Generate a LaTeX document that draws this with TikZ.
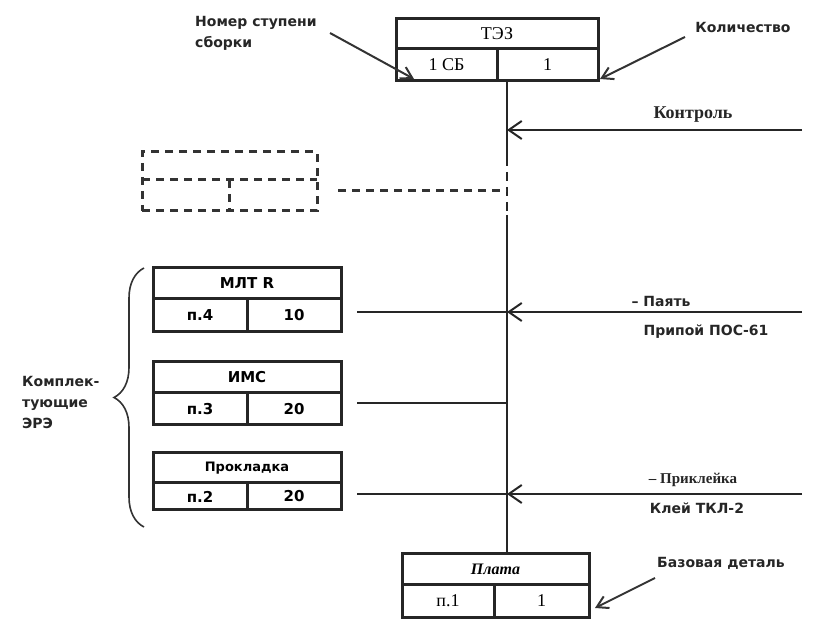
\documentclass[tikz,border=0pt]{standalone}
\usepackage{fontspec}
\setmainfont{Liberation Serif}
\newfontfamily\lblfont{DejaVu Sans}
\usetikzlibrary{arrows.meta, positioning, calc, decorations.pathreplacing}

\begin{document}
\begin{tikzpicture}[
  x=1pt, y=-1pt,
  cell/.style={rectangle, draw=black!85, line width=3pt, minimum height=31pt,
               inner sep=0pt, outer sep=0pt, anchor=north west,
               font=\fontsize{18}{20}\selectfont},
  scell/.style={cell, font=\lblfont\bfseries\fontsize{15}{17}\selectfont},
  ghost/.style={draw=black!80, line width=3pt, dash pattern=on 8pt off 6pt},
  lbl/.style={font=\lblfont\bfseries\fontsize{14}{21}\selectfont, text=black!85,
              inner sep=0pt, align=left},
  slbl/.style={font=\bfseries\fontsize{18}{20}\selectfont, text=black!85, inner sep=0pt},
  trunk/.style={line width=2.8pt, draw=black!85},
  feed/.style={trunk, -{Straight Barb[length=13pt, width=18pt, line width=2pt]}},
  pointer/.style={line width=2pt, draw=black!80, -{Straight Barb[length=11pt, width=13pt]}}
]
\useasboundingbox (0,0) rectangle (815,620);

% ── Assembly unit ──
\node[cell, minimum width=202pt, minimum height=30pt] (tez) at (396,19) {ТЭЗ};
\node[cell, minimum width=101pt, minimum height=32pt] (tez-code) at (tez.south west) {1 СБ};
\node[cell, minimum width=101pt, minimum height=32pt] (tez-qty)  at (tez-code.north east) {1};

% ── Omitted element (dashed) ──
\node[ghost, rectangle, minimum width=175pt, minimum height=59pt, outer sep=0pt,
      anchor=north west] (gh) at (142,152) {};
\draw[ghost] ($(gh.north west)+(0,28)$) -- ($(gh.north east)+(0,28)$);
\draw[ghost] ($(gh.north west)+(87,28)$) -- ($(gh.south west)+(87,0)$);

% ── Components ──
\node[scell, minimum width=188pt] (mlt) at (153,268) {МЛТ R};
\node[scell, minimum width=94pt, minimum height=33pt] (mlt-code) at (mlt.south west) {п.4};
\node[scell, minimum width=94pt, minimum height=33pt] (mlt-qty)  at (mlt-code.north east) {10};

\node[scell, minimum width=188pt] (ims) at (153,362) {ИМС};
\node[scell, minimum width=94pt, minimum height=32pt] (ims-code) at (ims.south west) {п.3};
\node[scell, minimum width=94pt, minimum height=32pt] (ims-qty)  at (ims-code.north east) {20};

\node[scell, minimum width=188pt, minimum height=30pt, font=\lblfont\bfseries\fontsize{13}{15}\selectfont] (gasket) at (153,453) {Прокладка};
\node[scell, minimum width=94pt, minimum height=27pt] (gasket-code) at (gasket.south west) {п.2};
\node[scell, minimum width=94pt, minimum height=27pt] (gasket-qty)  at (gasket-code.north east) {20};

% ── Base part ──
\node[cell, minimum width=187pt, minimum height=30pt, font=\bfseries\itshape\fontsize{16}{18}\selectfont] (plata) at (402,554) {Плата};
\node[cell, minimum width=92pt, minimum height=33pt] (plata-code) at (plata.south west) {п.1};
\node[cell, minimum width=95pt, minimum height=33pt] (plata-qty)  at (plata-code.north east) {1};

% ── Trunk junctions ──
\coordinate (j-ctrl)   at (507,130);
\coordinate (j-dash1)  at (507,157);
\coordinate (j-dash2)  at (507,215);
\coordinate (j-ghost)  at (507,191);
\coordinate (j-solder) at (507,312);
\coordinate (j-ims)    at (507,403);
\coordinate (j-glue)   at (507,494);
\coordinate (r-ctrl)   at (802,130);
\coordinate (r-solder) at (802,312);
\coordinate (r-glue)   at (802,494);

\draw[trunk] (tez-qty.south -| j-ctrl) -- (j-dash1);
\draw[trunk, dash pattern=on 9pt off 6pt] (j-dash1) -- (j-dash2);
\draw[trunk] (j-dash2) -- (plata.north -| j-ctrl);

% ── Feeds into the trunk ──
\draw[ghost, shorten <=21pt] (gh.east |- j-ghost) -- (j-ghost);
\draw[trunk, shorten <=16pt] (mlt-qty.east |- j-solder) -- (j-solder);
\draw[trunk, shorten <=16pt] (ims-qty.east |- j-ims) -- (j-ims);
\draw[trunk, shorten <=16pt] (gasket-qty.east |- j-glue) -- (j-glue);

\draw[feed] (r-ctrl)   -- (j-ctrl);
\draw[feed] (r-solder) -- (j-solder);
\draw[feed] (r-glue)   -- (j-glue);

% ── Operation labels ──
\node[slbl] (l-ctrl)   at (693,115) {Контроль};
\node[lbl]  (l-solder) at (661,301) {– Паять};
\node[lbl]  (l-pos)    at (706,332) {Припой ПОС-61};
\node[slbl, font=\bfseries\fontsize{15}{17}\selectfont] (l-glue) at (693,480) {– Приклейка};
\node[lbl]  (l-tkl)    at (697,508) {Клей ТКЛ-2};

% ── Callouts ──
\node[lbl, anchor=west] (l-stage) at (195,33) {Номер ступени\\сборки};
\node[lbl] (l-qty)  at (743,27)  {Количество};
\node[lbl] (l-base) at (721,563) {Базовая деталь};
\coordinate (p-stage) at (330,33);
\coordinate (p-qty)   at (685,37);
\coordinate (p-base)  at (655,578);
\draw[pointer] (p-stage) -- ($(tez-code.south west)+(18,-2)$);
\draw[pointer] (p-qty)   -- ($(tez-qty.south east)+(2,-2)$);
\draw[pointer] (p-base)  -- ($(plata-qty.south east)+(6,-9)$);

% ── Component group ──
\draw[line width=1.6pt, draw=black!80, decorate, decoration={brace, amplitude=30pt}]
  (144,527) -- (144,268);
\node[lbl, anchor=west] (l-group) at (22,402) {Комплек-\\тующие\\ЭРЭ};
\end{tikzpicture}
\end{document}
